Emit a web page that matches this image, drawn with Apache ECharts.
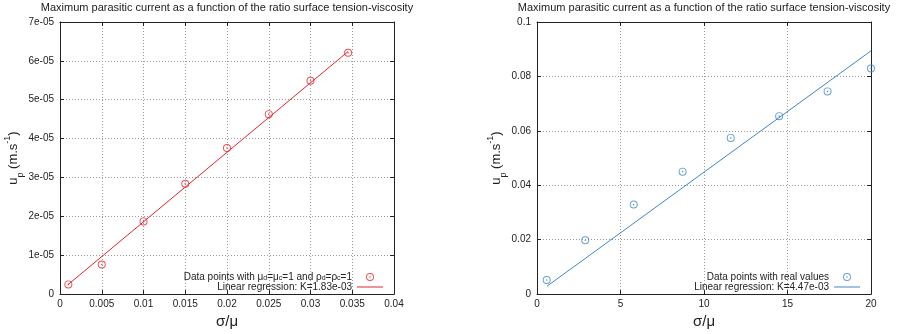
<!DOCTYPE html>
<html><head><meta charset="utf-8">
<script src="https://cdn.jsdelivr.net/npm/echarts@6/dist/echarts.min.js"></script>
<style>html,body{margin:0;padding:0;background:#fff}#c{width:911px;height:334px}</style>
</head><body><div id="c"></div>
<script>
// ---- data ----
const titleText = 'Maximum parasitic current as a function of the ratio surface tension-viscosity';
const leftX = [0.001, 0.005, 0.010, 0.015, 0.020, 0.025, 0.030, 0.0345];
const leftY = [2.5e-6, 7.6e-6, 1.87e-5, 2.84e-5, 3.76e-5, 4.63e-5, 5.49e-5, 6.21e-5];
const leftFitX = [0.001, 0.0345];
const leftFitY = [2.5e-6, 6.24e-5];
const rightX = [0.58, 2.89, 5.79, 8.72, 11.6, 14.5, 17.4, 20.0];
const rightY = [0.0052, 0.0198, 0.0329, 0.0450, 0.0574, 0.0654, 0.0745, 0.0829];
const rightFitX = [0.6, 20.0];
const rightFitY = [0.0029, 0.0894];
const leftXTicks = ['0', '0.005', '0.01', '0.015', '0.02', '0.025', '0.03', '0.035', '0.04'];
const leftYTicks = ['0', '1e-05', '2e-05', '3e-05', '4e-05', '5e-05', '6e-05', '7e-05'];
const rightXTicks = ['0', '5', '10', '15', '20'];
const rightYTicks = ['0', '0.02', '0.04', '0.06', '0.08', '0.1'];
const legendLeft = ['Data points with μd=μc=1 and ρd=ρc=1', 'Linear regression: K=1.83e-03'];
const legendRight = ['Data points with real values', 'Linear regression: K=4.47e-03'];

const RED = '#e3262b', BLUE = '#3f86c9';
const FONT = 'Liberation Sans';
const ringDot = 'path://M0,-10A10,10 0 1,1 0,10A10,10 0 1,1 0,-10ZM0,-7.6A7.6,7.6 0 1,0 0,7.6A7.6,7.6 0 1,0 0,-7.6ZM0,-2A2,2 0 1,1 0,2A2,2 0 1,1 0,-2Z';
const lineIcon = 'path://M0,0H26V1H0Z';

const chart = echarts.init(document.getElementById('c'), null, {renderer: 'canvas'});

function xAxes(gi, min, max, interval, ticks) {
  return [{
    type: 'value', gridIndex: gi, min, max, interval, position: 'bottom',
    axisLine: {show: true, onZero: false, lineStyle: {color: '#222', width: 1}},
    axisTick: {show: true, inside: true, length: 4, lineStyle: {color: '#222'}},
    axisLabel: {fontFamily: FONT, fontSize: 10, color: '#222', margin: 5,
      formatter: v => ticks[Math.round((v - min) / interval)]},
    splitLine: {show: true, lineStyle: {color: '#999', type: [1, 2], width: 1}},
    name: 'σ/μ', nameLocation: 'middle', nameGap: 12,
    nameTextStyle: {fontFamily: FONT, fontSize: 15, color: '#222'}
  }, {
    type: 'value', gridIndex: gi, min, max, interval, position: 'top',
    axisLine: {show: true, onZero: false, lineStyle: {color: '#222', width: 1}},
    axisTick: {show: true, inside: true, length: 4, lineStyle: {color: '#222'}},
    axisLabel: {show: false}, splitLine: {show: false}
  }];
}
function yAxes(gi, min, max, interval, ticks, gap) {
  return [{
    type: 'value', gridIndex: gi, min, max, interval, position: 'left',
    axisLine: {show: true, onZero: false, lineStyle: {color: '#222', width: 1}},
    axisTick: {show: true, inside: true, length: 4, lineStyle: {color: '#222'}},
    axisLabel: {fontFamily: FONT, fontSize: 10, color: '#222', margin: 6,
      formatter: v => ticks[Math.round((v - min) / interval)]},
    splitLine: {show: true, lineStyle: {color: '#999', type: [1, 2], width: 1}},
    name: '{b|u}{sub|p}{b| (m.s}{sup|-1}{b|)}', nameLocation: 'middle', nameGap: gap, nameRotate: 90,
    nameTextStyle: {fontFamily: FONT, fontSize: 13, color: '#222',
      rich: {
        b: {fontFamily: FONT, fontSize: 13, color: '#222', lineHeight: 22},
        sub: {fontFamily: FONT, fontSize: 9, color: '#222', lineHeight: 14, verticalAlign: 'bottom'},
        sup: {fontFamily: FONT, fontSize: 9, color: '#222', lineHeight: 14, verticalAlign: 'top'}
      }}
  }, {
    type: 'value', gridIndex: gi, min, max, interval, position: 'right',
    axisLine: {show: true, onZero: false, lineStyle: {color: '#222', width: 1}},
    axisTick: {show: true, inside: true, length: 4, lineStyle: {color: '#222'}},
    axisLabel: {show: false}, splitLine: {show: false}
  }];
}

const legRich = {
  t: {fontFamily: FONT, fontSize: 10, color: '#222', lineHeight: 10},
  s: {fontFamily: FONT, fontSize: 7, color: '#222', lineHeight: 10, verticalAlign: 'bottom', padding: [3, 0, 0, 0]}
};
function legFmt(name) {
  if (name === legendLeft[0]) {
    return '{t|Data points with μ}{s|d}{t|=μ}{s|c}{t|=1 and ρ}{s|d}{t|=ρ}{s|c}{t|=1}';
  }
  return '{t|' + name + '}';
}

const option = {
  animation: false,
  backgroundColor: '#fff',
  graphic: [
    {type: 'text', x: 227, y: 8, style: {text: titleText, font: '11px "Liberation Sans"', fill: '#222', align: 'center', verticalAlign: 'middle'}},
    {type: 'text', x: 704, y: 8, style: {text: titleText, font: '11px "Liberation Sans"', fill: '#222', align: 'center', verticalAlign: 'middle'}}
  ],
  grid: [
    {left: 60, right: 517, top: 22, bottom: 39},
    {left: 537, right: 40, top: 22, bottom: 39}
  ],
  xAxis: [...xAxes(0, 0, 0.04, 0.005, leftXTicks), ...xAxes(1, 0, 20, 5, rightXTicks)],
  yAxis: [...yAxes(0, 0, 7e-5, 1e-5, leftYTicks, 34), ...yAxes(1, 0, 0.1, 0.02, rightYTicks, 28)],
  legend: [
    {orient: 'vertical', right: 528, top: 272, align: 'right', itemWidth: 26, itemHeight: 8, itemGap: 0,
      padding: 0, data: [legendLeft[0], {name: legendLeft[1], icon: lineIcon}], formatter: legFmt,
      textStyle: {rich: legRich, fontSize: 10, color: '#222'}},
    {orient: 'vertical', right: 51, top: 272, align: 'right', itemWidth: 26, itemHeight: 8, itemGap: 0,
      padding: 0, data: [legendRight[0], {name: legendRight[1], icon: lineIcon}], formatter: legFmt,
      textStyle: {rich: legRich, fontSize: 10, color: '#222'}}
  ],
  series: [
    {name: legendLeft[0], type: 'scatter', xAxisIndex: 0, yAxisIndex: 0, symbol: ringDot, symbolSize: 8,
      itemStyle: {color: RED}, data: leftX.map((x, i) => [x, leftY[i]]), z: 3},
    {name: legendLeft[1], type: 'line', xAxisIndex: 0, yAxisIndex: 0, symbol: 'none',
      lineStyle: {color: RED, width: 1}, itemStyle: {color: RED}, data: leftFitX.map((x, i) => [x, leftFitY[i]]), z: 2},
    {name: legendRight[0], type: 'scatter', xAxisIndex: 2, yAxisIndex: 2, symbol: ringDot, symbolSize: 8,
      itemStyle: {color: BLUE}, data: rightX.map((x, i) => [x, rightY[i]]), z: 3},
    {name: legendRight[1], type: 'line', xAxisIndex: 2, yAxisIndex: 2, symbol: 'none',
      lineStyle: {color: BLUE, width: 1}, itemStyle: {color: BLUE}, data: rightFitX.map((x, i) => [x, rightFitY[i]]), z: 2}
  ]
};
chart.setOption(option);
</script>
</body></html>
